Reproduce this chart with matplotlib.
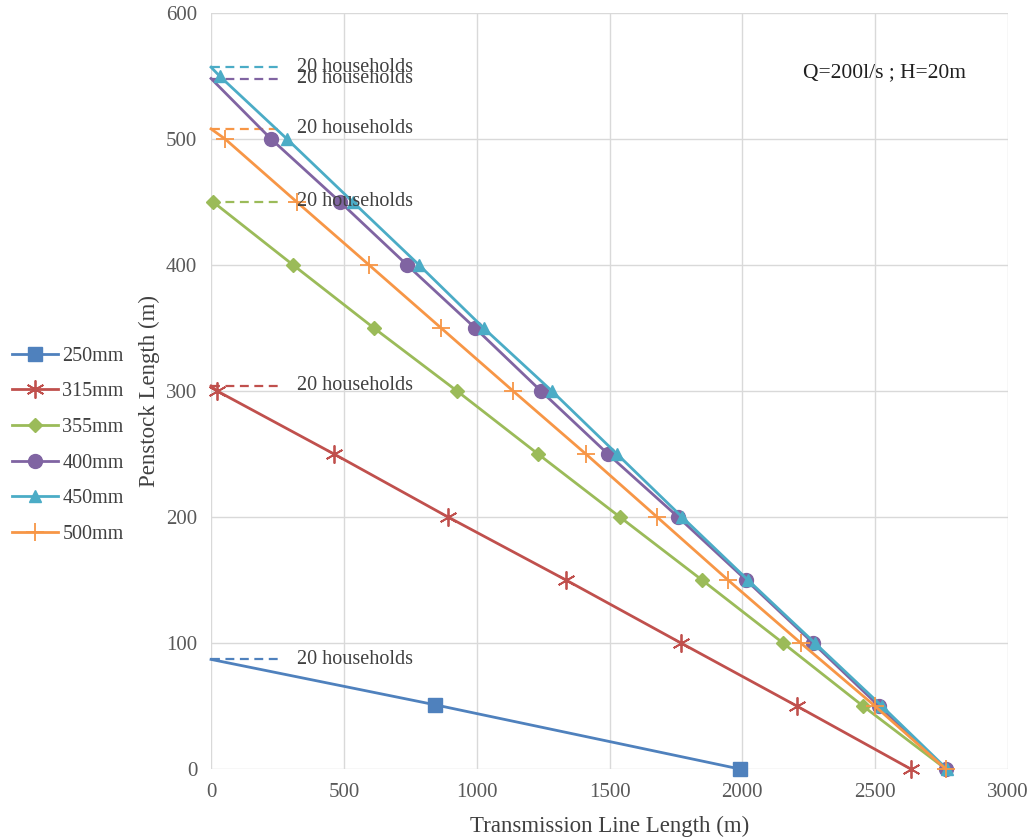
import matplotlib
matplotlib.use("Agg")
import matplotlib.pyplot as plt

plt.rcParams["font.family"] = ["Liberation Serif", "DejaVu Serif"]

# penstock length steps (m) and transmission line lengths
labels = ["250mm", "315mm", "355mm", "400mm", "450mm", "500mm"]
colors = ["#4F81BD", "#C0504D", "#9BBB59", "#8064A2", "#4BACC6", "#F79646"]
markers = ["s", (6, 2, 0), "D", "o", "^", "+"]
marker_sizes = [10, 13, 7, 10, 9, 13]

x_250 = [0, 843, 1991]
y_250 = [87, 51, 0]
x_315 = [0, 23, 463, 892, 1336, 1769, 2205, 2634]
y_315 = [304, 300, 250, 200, 150, 100, 50, 0]
x_355 = [8, 309, 613, 926, 1231, 1539, 1848, 2153, 2454, 2766]
y_355 = [450, 400, 350, 300, 250, 200, 150, 100, 50, 0]
x_400 = [0, 226, 486, 738, 994, 1242, 1494, 1758, 2014, 2266, 2514, 2766]
y_400 = [548, 500, 450, 400, 350, 300, 250, 200, 150, 100, 50, 0]
x_450 = [0, 32, 286, 534, 783, 1026, 1283, 1528, 1773, 2021, 2273, 2525, 2770]
y_450 = [557, 550, 500, 450, 400, 350, 300, 250, 200, 150, 100, 50, 0]
x_500 = [0, 53, 323, 595, 866, 1137, 1411, 1679, 1946, 2220, 2499, 2766]
y_500 = [508, 500, 450, 400, 350, 300, 250, 200, 150, 100, 50, 0]

# start of each curve = the "20 households" level
household_levels = [87, 304, 450, 548, 557, 508]
household_end = 255

series = [(x_250, y_250), (x_315, y_315), (x_355, y_355),
          (x_400, y_400), (x_450, y_450), (x_500, y_500)]

fig = plt.figure(figsize=(10.36, 8.38), dpi=100)
ax = fig.add_axes([0.2037, 0.0823, 0.7693, 0.9022])

for (xs, ys), lab, c, m, ms in zip(series, labels, colors, markers, marker_sizes):
    first = 0 if xs[0] > 0 else 1
    ax.plot(xs, ys, color=c, lw=2, marker=m, ms=ms, mew=1.3 if m in ("+", (6, 2, 0)) else 1,
            markevery=slice(first, None), label=lab, clip_on=False, zorder=3)

for lvl, c in zip(household_levels, colors):
    ax.plot([0, household_end], [lvl, lvl], color=c, lw=1.6, ls=(0, (4, 2.5)), zorder=2)
    ax.text(324, lvl, "20 households", fontsize=14.5, color="#404040", va="center", ha="left")

ax.text(2228, 553, "Q=200l/s ; H=20m", fontsize=15.5, color="#202020", va="center")

ax.set_xlim(0, 3000)
ax.set_ylim(0, 600)
ax.set_xticks(range(0, 3001, 500))
ax.set_yticks(range(0, 601, 100))
ax.grid(True, color="#D9D9D9", lw=1)
ax.set_axisbelow(True)
for s in ax.spines.values():
    s.set_visible(False)
ax.tick_params(length=0, labelsize=15, labelcolor="#595959", pad=10)
ax.set_xlabel("Transmission Line Length (m)", fontsize=16.5, color="#404040", labelpad=10)
ax.set_ylabel("Penstock Length (m)", fontsize=16.5, color="#404040", labelpad=4)

fig.legend(loc="upper left", bbox_to_anchor=(-0.006, 0.608), frameon=False,
           fontsize=14.5, handlelength=2.3, labelspacing=0.82, handletextpad=0.2,
           labelcolor="#404040")

fig.savefig("out.png", dpi=100)
